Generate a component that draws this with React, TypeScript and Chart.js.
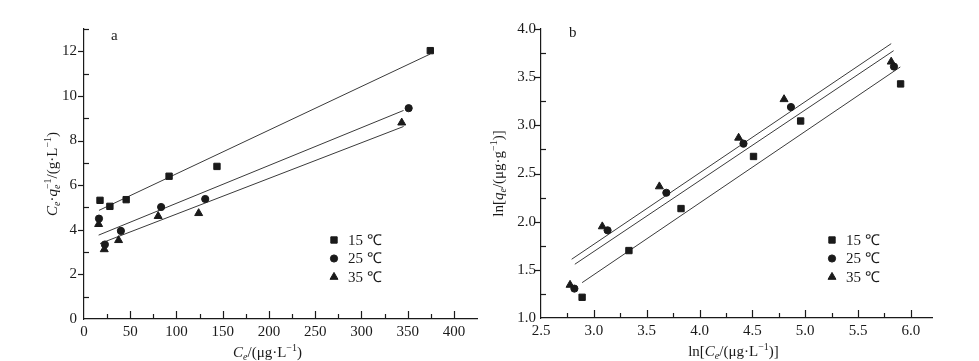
import React, { useEffect, useRef } from "react";
import { Chart, registerables } from "chart.js";
import { drawPoint } from "chart.js/helpers";

Chart.register(...registerables);

// ---------- shared ----------
const seriesLabels = ["15 ℃", "25 ℃", "35 ℃"];
const seriesStyles = ["rect", "circle", "triangle"];
const seriesRadius = [4.5, 3.6, 4.6];

// ---------- panel a : Ce/qe vs Ce ----------
const aX15 = [17.3, 28, 45.6, 92, 143.8, 374.5];
const aY15 = [5.32, 5.05, 5.35, 6.4, 6.84, 12.03];
const aX25 = [16.2, 22.6, 39.9, 83.4, 131.1, 351.1];
const aY25 = [4.5, 3.34, 3.95, 5.02, 5.38, 9.45];
const aX35 = [15.8, 21.9, 37.4, 80.2, 124, 343.6];
const aY35 = [4.25, 3.12, 3.53, 4.61, 4.74, 8.8];

const aFit15X = [16.2, 374.5];
const aFit15Y = [4.87, 11.88];
const aFit25X = [15.8, 345.6];
const aFit25Y = [3.76, 9.35];
const aFit35X = [17.3, 345.6];
const aFit35Y = [3.38, 8.63];

// ---------- panel b : ln qe vs ln Ce ----------
const bX15 = [2.889, 3.332, 3.825, 4.511, 4.957, 5.903];
const bY15 = [1.215, 1.7, 2.136, 2.677, 3.045, 3.43];
const bX25 = [2.816, 3.13, 3.686, 4.416, 4.865, 5.84];
const bY25 = [1.305, 1.91, 2.3, 2.81, 3.19, 3.61];
const bX35 = [2.775, 3.08, 3.62, 4.37, 4.8, 5.814];
const bY35 = [1.343, 1.95, 2.365, 2.87, 3.27, 3.66];

const bFit15X = [2.889, 5.9];
const bFit15Y = [1.367, 3.606];
const bFit25X = [2.82, 5.837];
const bFit25Y = [1.558, 3.775];
const bFit35X = [2.79, 5.814];
const bFit35Y = [1.61, 3.848];

const INK = "#1a1a1a";
const LINE = "#3a3a3a";
const FONT = '"Liberation Serif", "Times New Roman", serif';

type Seg = { t: string; i?: boolean; sub?: string; sup?: string };

const aYTitle: Seg[] = [
  { t: "C", i: true, sub: "e" },
  { t: "·" },
  { t: "q", i: true, sub: "e", sup: "−1" },
  { t: "/(g·L", sup: "−1" },
  { t: ")" },
];
const aXTitle: Seg[] = [{ t: "C", i: true, sub: "e" }, { t: "/(μg·L", sup: "−1" }, { t: ")" }];
const bYTitle: Seg[] = [{ t: "ln[" }, { t: "q", i: true, sub: "e" }, { t: "/(μg·g", sup: "−1" }, { t: ")]" }];
const bXTitle: Seg[] = [{ t: "ln[" }, { t: "C", i: true, sub: "e" }, { t: "/(μg·L", sup: "−1" }, { t: ")]" }];

function pts(xs: number[], ys: number[]) {
  return xs.map((x, i) => ({ x, y: ys[i] }));
}

function drawRich(ctx: CanvasRenderingContext2D, segs: Seg[], cx: number, cy: number, rot: number, size: number) {
  const small = Math.round(size * 0.68);
  const f = (it: boolean | undefined, s: number) => `${it ? "italic " : ""}${s}px ${FONT}`;
  const widths = segs.map((s) => {
    ctx.font = f(s.i, size);
    const w = ctx.measureText(s.t).width;
    let ws = 0;
    let wp = 0;
    if (s.sub) {
      ctx.font = f(s.i, small);
      ws = ctx.measureText(s.sub).width;
    }
    if (s.sup) {
      ctx.font = f(false, small);
      wp = ctx.measureText(s.sup).width;
    }
    return [w, Math.max(ws, wp)];
  });
  const total = widths.reduce((a, w) => a + w[0] + w[1], 0);
  ctx.save();
  ctx.translate(cx, cy);
  ctx.rotate(rot);
  ctx.fillStyle = INK;
  ctx.textBaseline = "alphabetic";
  ctx.textAlign = "left";
  let x = -total / 2;
  const base = size * 0.33;
  segs.forEach((s, k) => {
    ctx.font = f(s.i, size);
    ctx.fillText(s.t, x, base);
    x += widths[k][0];
    if (s.sub) {
      ctx.font = f(s.i, small);
      ctx.fillText(s.sub, x, base + size * 0.22);
    }
    if (s.sup) {
      ctx.font = f(false, small);
      ctx.fillText(s.sup, x, base - size * 0.42);
    }
    x += widths[k][1];
  });
  ctx.restore();
}

const decorPlugin = {
  id: "decor",
  afterDraw(chart: any, _args: any, o: any) {
    const ctx: CanvasRenderingContext2D = chart.ctx;
    const { left, right, top, bottom } = chart.chartArea;
    const xs = chart.scales.x;
    const ys = chart.scales.y;
    ctx.save();
    ctx.strokeStyle = INK;
    ctx.lineWidth = 1.2;
    const isMajor = (v: number, m: number) => Math.abs(v / m - Math.round(v / m)) < 1e-6;
    for (let k = 1; ; k++) {
      const v = xs.min + k * o.xMinor;
      if (v > o.xTickMax + 1e-9) break;
      const px = Math.round(xs.getPixelForValue(v)) + 0.5;
      ctx.beginPath();
      ctx.moveTo(px, bottom);
      ctx.lineTo(px, bottom - (isMajor(v, o.xMajor) ? 8 : 5));
      ctx.stroke();
    }
    for (let k = 1; ; k++) {
      const v = ys.min + k * o.yMinor;
      if (v > ys.max + 1e-9) break;
      const py = Math.round(ys.getPixelForValue(v)) + 0.5;
      ctx.beginPath();
      if (isMajor(v, o.yMajor)) {
        ctx.moveTo(left, py);
        ctx.lineTo(left - 6, py);
      } else {
        ctx.moveTo(left, py);
        ctx.lineTo(left + 5, py);
      }
      ctx.stroke();
    }
    ctx.restore();

    // panel letter
    ctx.save();
    ctx.fillStyle = INK;
    ctx.font = `15px ${FONT}`;
    ctx.textBaseline = "middle";
    ctx.textAlign = "left";
    ctx.fillText(o.letter, left + o.letterDx, top + o.letterDy);
    ctx.restore();

    // axis titles
    drawRich(ctx, o.xTitle, (left + right) / 2 + o.xTitleDx, bottom + 33, 0, 15);
    drawRich(ctx, o.yTitle, o.yTitleX, (top + bottom) / 2, -Math.PI / 2, 15);

    // legend
    ctx.save();
    seriesLabels.forEach((lab, i) => {
      const ly = top + o.legendDy + i * 18.5;
      const lx = left + o.legendDx;
      ctx.fillStyle = INK;
      ctx.strokeStyle = INK;
      ctx.lineWidth = 1;
      drawPoint(ctx, { pointStyle: seriesStyles[i] as any, radius: seriesRadius[i], rotation: 0, borderWidth: 1 } as any, lx, ly);
      ctx.font = `15px ${FONT}`;
      ctx.textBaseline = "middle";
      ctx.textAlign = "left";
      ctx.fillText(lab, lx + 14, ly + 1);
    });
    ctx.restore();
  },
};

function fitSet(xs: number[], ys: number[]) {
  return {
    data: pts(xs, ys),
    showLine: true,
    borderColor: LINE,
    borderWidth: 1,
    pointRadius: 0,
    fill: false,
  };
}
function pointSet(xs: number[], ys: number[], i: number) {
  return {
    label: seriesLabels[i],
    data: pts(xs, ys),
    showLine: false,
    pointStyle: seriesStyles[i],
    pointRadius: seriesRadius[i],
    backgroundColor: INK,
    borderColor: INK,
    borderWidth: 1,
  };
}

function axis(min: number, max: number, step: number, fmt: (v: number) => string, isX: boolean, size: number, pad: number) {
  return {
    type: "linear",
    min,
    max,
    afterFit: (s: any) => {
      if (isX) s.height = size;
      else s.width = size;
    },
    grid: { display: false, drawTicks: false },
    border: { display: true, color: INK, width: 1.2 },
    ticks: {
      stepSize: step,
      includeBounds: false,
      autoSkip: false,
      maxRotation: 0,
      padding: pad,
      color: INK,
      font: { family: FONT, size: 15 },
      callback: (v: any) => fmt(Number(v)),
    },
  };
}

function makeConfigA(): any {
  return {
    type: "scatter",
    data: {
      datasets: [
        pointSet(aX15, aY15, 0),
        pointSet(aX25, aY25, 1),
        pointSet(aX35, aY35, 2),
        fitSet(aFit15X, aFit15Y),
        fitSet(aFit25X, aFit25Y),
        fitSet(aFit35X, aFit35Y),
      ],
    },
    options: {
      animation: false,
      responsive: false,
      devicePixelRatio: 1,
      layout: { padding: { left: 0, top: 29, right: 13, bottom: 0 } },
      plugins: {
        legend: { display: false },
        tooltip: { enabled: false },
        decor: {
          xMinor: 25,
          xMajor: 50,
          xTickMax: 400,
          yMinor: 1,
          yMajor: 2,
          letter: "a",
          letterDx: 27,
          letterDy: 7,
          xTitle: aXTitle,
          xTitleDx: -13,
          yTitle: aYTitle,
          yTitleX: 52,
          legendDx: 250,
          legendDy: 211,
        },
      },
      scales: {
        x: axis(0, 425, 50, (v) => String(Math.round(v)), true, 42, 4),
        y: axis(0, 13, 2, (v) => String(Math.round(v)), false, 84, 7),
      },
    },
    plugins: [decorPlugin],
  };
}

function makeConfigB(): any {
  return {
    type: "scatter",
    data: {
      datasets: [
        pointSet(bX15, bY15, 0),
        pointSet(bX25, bY25, 1),
        pointSet(bX35, bY35, 2),
        fitSet(bFit15X, bFit15Y),
        fitSet(bFit25X, bFit25Y),
        fitSet(bFit35X, bFit35Y),
      ],
    },
    options: {
      animation: false,
      responsive: false,
      devicePixelRatio: 1,
      layout: { padding: { left: 0, top: 29, right: 47, bottom: 0 } },
      plugins: {
        legend: { display: false },
        tooltip: { enabled: false },
        decor: {
          xMinor: 0.25,
          xMajor: 0.5,
          xTickMax: 6.2,
          yMinor: 0.25,
          yMajor: 0.5,
          letter: "b",
          letterDx: 28,
          letterDy: 4,
          xTitle: bXTitle,
          xTitleDx: -3,
          yTitle: bYTitle,
          yTitleX: 8,
          legendDx: 291,
          legendDy: 211,
        },
      },
      scales: {
        x: axis(2.5, 6.2, 0.5, (v) => v.toFixed(1), true, 43, 4),
        y: axis(1, 4, 0.5, (v) => v.toFixed(1), false, 51, 5),
      },
    },
    plugins: [decorPlugin],
  };
}

function ChartCanvas({ make, left, width }: { make: () => any; left: number; width: number }) {
  const ref = useRef<HTMLCanvasElement | null>(null);
  useEffect(() => {
    if (!ref.current) return;
    const chart = new Chart(ref.current, make());
    return () => chart.destroy();
  }, [make]);
  return (
    <canvas
      ref={ref}
      width={width}
      height={361}
      style={{ position: "absolute", left, top: 0, width, height: 361, display: "block" }}
    />
  );
}

export default function App() {
  return (
    <div style={{ position: "fixed", left: 0, top: 0, width: 979, height: 361, background: "#fff", overflow: "hidden" }}>
      <ChartCanvas make={makeConfigA} left={0} width={490} />
      <ChartCanvas make={makeConfigB} left={490} width={489} />
    </div>
  );
}
